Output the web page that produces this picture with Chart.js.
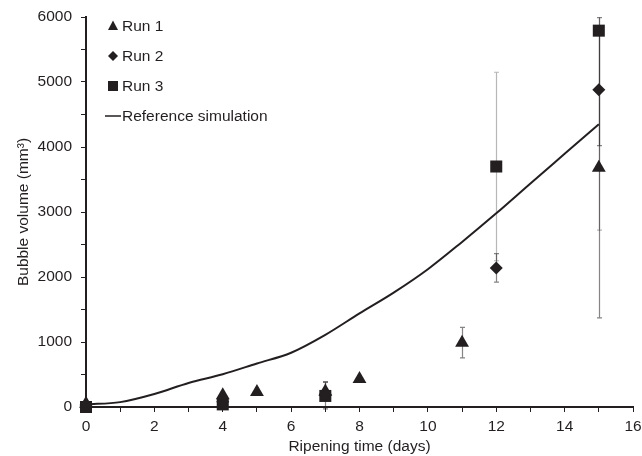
<!DOCTYPE html>
<html>
<head>
<meta charset="utf-8">
<script src="https://cdn.jsdelivr.net/npm/chart.js@4.4.1/dist/chart.umd.min.js"></script>
<style>
  html, body { margin: 0; padding: 0; background: #fff; }
  #wrap { width: 642px; height: 456px; }
</style>
</head>
<body>
<div id="wrap"><canvas id="myChart" width="642" height="456"></canvas></div>
<script>
const run1Days = [0, 4, 5, 7, 8, 11, 15]
const run1Vals = [50, 180, 230, 240, 430, 990, 3680]
const run1Err = [0, 0, 0, 140, 0, 235, 2310]

const run2Days = [0, 4, 7, 12, 15]
const run2Vals = [30, 80, 180, 2140, 4880]
const run2Err = [0, 0, 210, 220, 860]

const run3Days = [0, 4, 7, 12, 15]
const run3Vals = [0, 40, 170, 3700, 5790]
const run3Err = [0, 0, 30, 1450, 3070]

const simDays = [0, 1, 2, 3, 4, 5, 6, 7, 8, 9, 10, 11, 12, 13, 14, 15]
const simVals = [40, 75, 200, 370, 505, 670, 835, 1110, 1440, 1760, 2120, 2540, 2980, 3440, 3895, 4350]

const ink = '#231f20'

function pts(days, vals) {
    return days.map((d, i) => ({ x: d, y: vals[i] }))
}

const errorBars = {
    id: 'errorBars',
    beforeDatasetsDraw(chart) {
        const ctx = chart.ctx
        const xs = chart.scales.x
        const ys = chart.scales.y
        const area = chart.chartArea
        const sets = [
            [run1Days, run1Vals, run1Err, 'rgba(35,31,32,0.55)'],
            [run2Days, run2Vals, run2Err, 'rgba(35,31,32,0.55)'],
            [run3Days, run3Vals, run3Err, 'rgba(35,31,32,0.32)']
        ]
        ctx.save()
        ctx.beginPath()
        ctx.rect(area.left, area.top, area.right - area.left, area.bottom - area.top + 6)
        ctx.clip()
        ctx.lineWidth = 1.2
        sets.forEach(s => {
            ctx.strokeStyle = s[3]
            s[0].forEach((d, i) => {
                const e = s[2][i]
                if (!e) return
                const px = Math.round(xs.getPixelForValue(d)) + 0.5
                const top = ys.getPixelForValue(s[1][i] + e)
                const bot = ys.getPixelForValue(s[1][i] - e)
                ctx.beginPath()
                ctx.moveTo(px, top)
                ctx.lineTo(px, bot)
                ctx.moveTo(px - 2.5, top)
                ctx.lineTo(px + 2.5, top)
                ctx.moveTo(px - 2.5, bot)
                ctx.lineTo(px + 2.5, bot)
                ctx.stroke()
            })
        })
        ctx.restore()
    }
}

const legendBox = {
    id: 'legendBox',
    afterDraw(chart) {
        const ctx = chart.ctx
        const items = chart.data.datasets
        ctx.save()
        ctx.fillStyle = ink
        ctx.strokeStyle = ink
        ctx.font = '15.5px "Liberation Sans", Arial, sans-serif'
        ctx.textBaseline = 'middle'
        items.forEach((ds, i) => {
            const y = 26 + i * 30
            const x = 113
            ctx.beginPath()
            if (ds.pointStyle === 'triangle') {
                ctx.moveTo(x, y - 5.5)
                ctx.lineTo(x + 5, y + 4)
                ctx.lineTo(x - 5, y + 4)
                ctx.closePath()
                ctx.fill()
            } else if (ds.pointStyle === 'rectRot') {
                ctx.moveTo(x, y - 5)
                ctx.lineTo(x + 5, y)
                ctx.lineTo(x, y + 5)
                ctx.lineTo(x - 5, y)
                ctx.closePath()
                ctx.fill()
            } else if (ds.pointStyle === 'rect') {
                ctx.fillRect(x - 5, y - 5, 10, 10)
            } else {
                ctx.lineWidth = 1.5
                ctx.moveTo(105, y)
                ctx.lineTo(121, y)
                ctx.stroke()
            }
            ctx.fillText(ds.label, 122, y + 1)
        })
        ctx.restore()
    }
}

const data = {
    datasets: [{
            label: 'Run 1',
            data: pts(run1Days, run1Vals),
            pointStyle: 'triangle',
            pointRadius: 8,
            backgroundColor: ink,
            borderColor: ink,
            borderWidth: 0,
            clip: false
        },
        {
            label: 'Run 2',
            data: pts(run2Days, run2Vals),
            pointStyle: 'rectRot',
            pointRadius: 6.5,
            backgroundColor: ink,
            borderColor: ink,
            borderWidth: 0,
            clip: false
        },
        {
            label: 'Run 3',
            data: pts(run3Days, run3Vals),
            pointStyle: 'rect',
            pointRadius: 8.5,
            backgroundColor: ink,
            borderColor: ink,
            borderWidth: 0,
            clip: false
        },
        {
            label: 'Reference simulation',
            data: pts(simDays, simVals),
            showLine: true,
            pointRadius: 0,
            borderColor: ink,
            borderWidth: 2,
            cubicInterpolationMode: 'monotone',
            fill: false
        }
    ]
}

const tickFont = { family: '"Liberation Sans", Arial, sans-serif', size: 15.5 }

const config = {
    type: 'scatter',
    data: data,
    plugins: [errorBars, legendBox],
    options: {
        responsive: false,
        animation: false,
        layout: { padding: { left: 0, top: 17, right: 9, bottom: 0 } },
        plugins: {
            legend: { display: false },
            tooltip: { enabled: false }
        },
        scales: {
            x: {
                type: 'linear',
                min: 0,
                max: 16,
                afterFit: s => {
                    s.height = 49
                    s.paddingLeft = 0
                    s.paddingRight = 0
                },
                border: { color: ink, width: 2 },
                grid: { drawOnChartArea: false, drawTicks: true, tickLength: 5, color: ink },
                ticks: {
                    stepSize: 1,
                    autoSkip: false,
                    maxRotation: 0,
                    color: ink,
                    font: tickFont,
                    padding: 5,
                    callback: v => (v % 2 === 0 ? v : '')
                },
                title: {
                    display: true,
                    text: 'Ripening time (days)',
                    color: ink,
                    font: tickFont,
                    padding: { top: 0, bottom: 0 }
                }
            },
            y: {
                min: 0,
                max: 6000,
                afterFit: s => {
                    s.width = 86
                    s.paddingTop = 0
                    s.paddingBottom = 0
                },
                border: { color: ink, width: 2 },
                grid: { drawOnChartArea: false, drawTicks: true, tickLength: 5, color: ink },
                ticks: {
                    stepSize: 500,
                    autoSkip: false,
                    color: ink,
                    font: tickFont,
                    padding: 9,
                    callback: v => (v % 1000 === 0 ? v : '')
                },
                title: {
                    display: true,
                    text: 'Bubble volume (mm³)',
                    color: ink,
                    font: tickFont,
                    padding: { top: 14, bottom: 0 }
                }
            }
        }
    }
}

var myChart = new Chart(document.getElementById('myChart'), config)
</script>
</body>
</html>
